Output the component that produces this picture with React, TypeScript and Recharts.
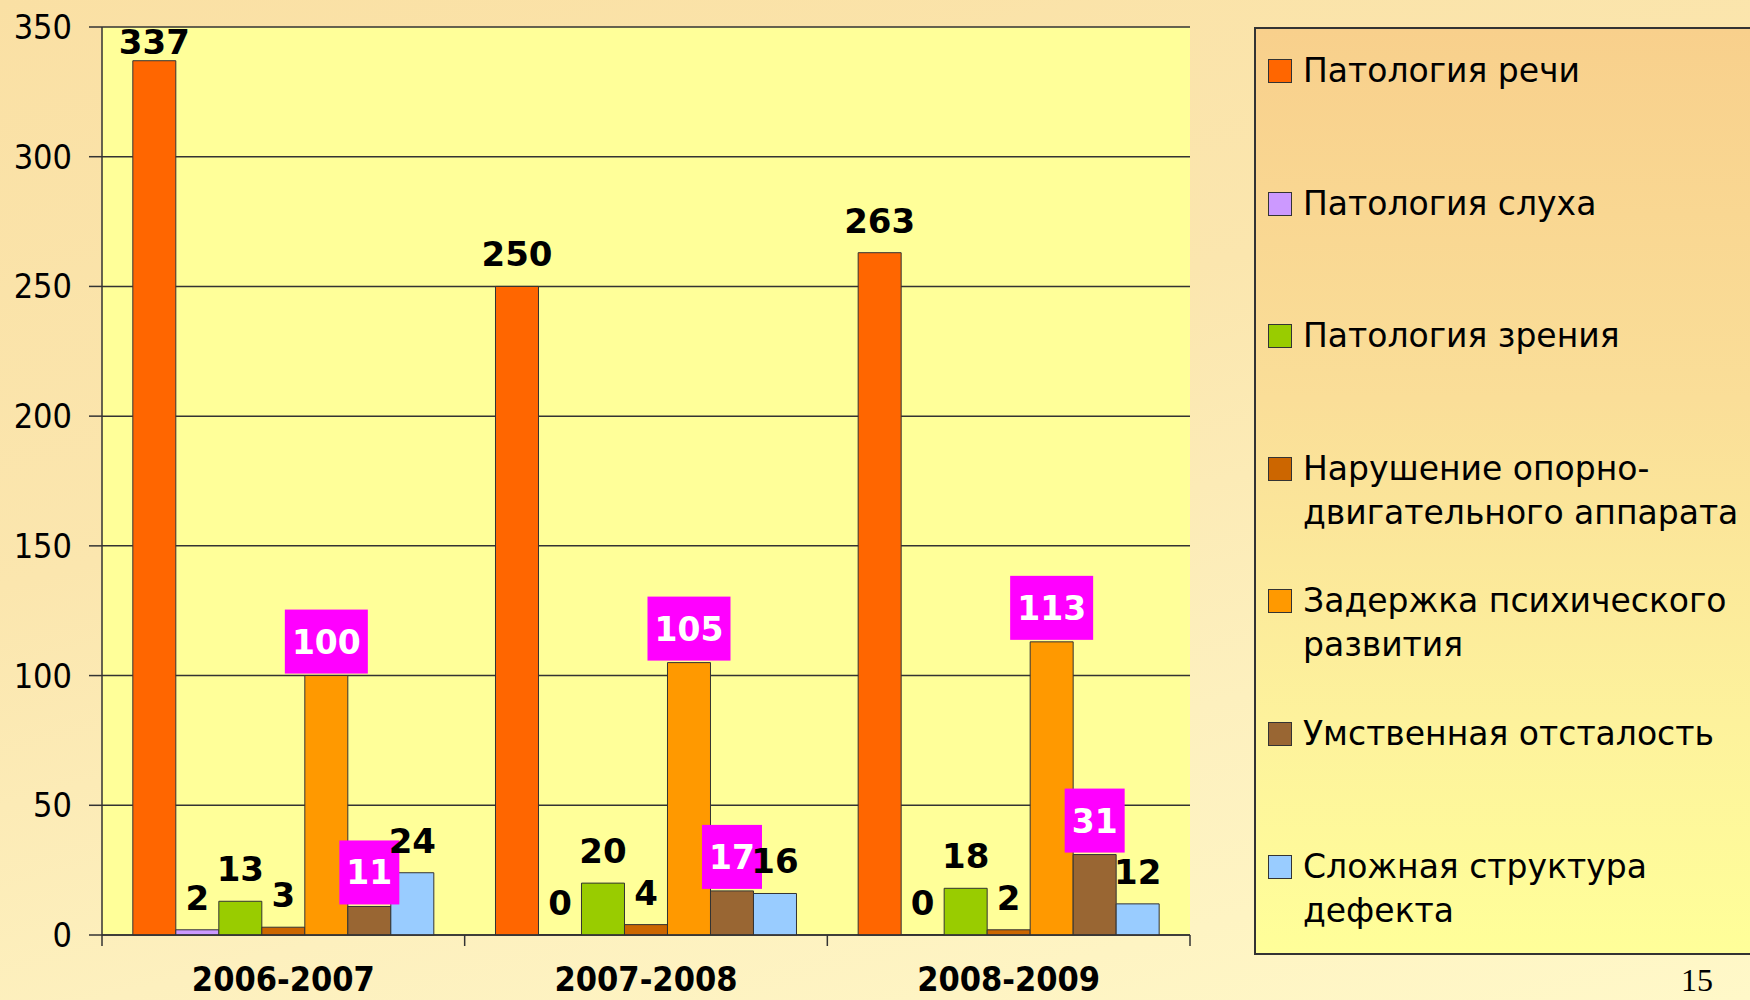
import React from 'react';
import { BarChart, Bar, XAxis, YAxis, CartesianGrid, Legend, LabelList } from 'recharts';

const categories = ['2006-2007', '2007-2008', '2008-2009'];
const seriesNames = [
  'Патология речи',
  'Патология слуха',
  'Патология зрения',
  'Нарушение опорно-двигательного аппарата',
  'Задержка психического развития',
  'Умственная отсталость',
  'Сложная структура дефекта',
];
const legendLines = [
  ['Патология речи'],
  ['Патология слуха'],
  ['Патология зрения'],
  ['Нарушение опорно-', 'двигательного аппарата'],
  ['Задержка психического', 'развития'],
  ['Умственная отсталость'],
  ['Сложная структура', 'дефекта'],
];
const seriesColors = ['#FF6600', '#CC99FF', '#99CC00', '#CC6600', '#FF9900', '#996633', '#99CCFF'];
const speechValues = [337, 250, 263];
const hearingValues = [2, 0, 0];
const visionValues = [13, 20, 18];
const motorValues = [3, 4, 2];
const delayValues = [100, 105, 113];
const intellectValues = [11, 17, 31];
const complexValues = [24, 16, 12];
const seriesValues = [speechValues, hearingValues, visionValues, motorValues, delayValues, intellectValues, complexValues];
const boxedSeries = [4, 5];
const yTicks = [0, 50, 100, 150, 200, 250, 300, 350];
const pageNumber = '15';

const seriesKeys = seriesNames.map((_, i) => `s${i}`);
const data = categories.map((c, ci) => {
  const row: Record<string, any> = { category: c };
  seriesKeys.forEach((k, si) => {
    row[k] = seriesValues[si][ci];
  });
  return row;
});

const FONT_C = "'DejaVu Sans Condensed', 'DejaVu Sans', sans-serif";
const FONT = "'DejaVu Sans', sans-serif";
const W = 1750;
const H = 1000;
const M_TOP = 27;
const M_RIGHT = 560;
const Y_W = 102;
const X_H = 65;
const PLOT_W = W - M_RIGHT - Y_W;
const LINE = '#333333';

const makeLabel = (boxed: boolean) => (props: any) => {
  const { x, y, width, value } = props;
  const cx = Number(x) + Number(width) / 2;
  const top = Number(y);
  const text = String(value);
  if (boxed) {
    const w = text.length * 23 + 14;
    const h = 64;
    const bottom = top - 2;
    return (
      <g>
        <rect x={cx - w / 2} y={bottom - h} width={w} height={h} fill="#FF00FF" />
        <text x={cx} y={bottom - h / 2 + 12} textAnchor="middle" fill="#FFFFFF" fontWeight="bold" fontSize={33} fontFamily={FONT}>
          {text}
        </text>
      </g>
    );
  }
  const baseline = Math.max(top - 20, M_TOP + 27);
  return (
    <text x={cx} y={baseline} textAnchor="middle" fill="#000000" fontWeight="bold" fontSize={34} fontFamily={FONT}>
      {text}
    </text>
  );
};

const XTick = (props: any) => {
  const { x, y, payload, index } = props;
  const half = PLOT_W / categories.length / 2;
  const cx = Number(x);
  const cy = Number(y);
  return (
    <g>
      <line x1={cx - half} x2={cx - half} y1={cy} y2={cy + 11} stroke={LINE} strokeWidth={1.5} />
      {index === categories.length - 1 && (
        <line x1={cx + half} x2={cx + half} y1={cy} y2={cy + 11} stroke={LINE} strokeWidth={1.5} />
      )}
      <text x={cx} y={cy + 56} textAnchor="middle" fill="#000000" fontWeight="bold" fontSize={34} fontFamily={FONT_C}>
        {payload.value}
      </text>
    </g>
  );
};

const SLOT = 132.6;

const renderLegend = (props: any) => {
  const payload: any[] = props.payload || [];
  return (
    <div
      style={{
        width: '100%',
        height: '100%',
        boxSizing: 'border-box',
        border: `2px solid ${LINE}`,
        background: 'linear-gradient(180deg, #F8D08C 0%, #FADE98 40%, #FDF29C 75%, #FFFF99 100%)',
        position: 'relative',
        fontFamily: FONT,
        fontSize: 33,
        color: '#000',
      }}
    >
      {seriesNames.map((name, i) => {
        const entry = payload.find((p) => p.value === name);
        const color = entry ? entry.color : seriesColors[i];
        return (
          <div key={name} style={{ position: 'absolute', left: 0, top: 20 + i * SLOT, width: '100%' }}>
            <div
              style={{
                position: 'absolute',
                left: 12,
                top: 10,
                width: 22,
                height: 22,
                background: color,
                border: `1px solid ${LINE}`,
              }}
            />
            <div style={{ position: 'absolute', left: 47, top: 0, lineHeight: '44px', whiteSpace: 'nowrap' }}>
              {legendLines[i].map((l) => (
                <div key={l}>{l}</div>
              ))}
            </div>
          </div>
        );
      })}
    </div>
  );
};

export default function App() {
  return (
    <div
      style={{
        position: 'fixed',
        left: 0,
        top: 0,
        width: W,
        height: H,
        overflow: 'hidden',
        background: 'linear-gradient(165deg, #FAE0A4 0%, #FBE6AE 40%, #FDF0BE 70%, #FFF8C8 100%)',
      }}
    >
      <BarChart
        width={W}
        height={H}
        data={data}
        margin={{ top: M_TOP, right: M_RIGHT, bottom: 0, left: 0 }}
        barCategoryGap="8.5%"
        barGap={0}
      >
        <CartesianGrid vertical={false} stroke={LINE} strokeWidth={1.5} fill="#FFFF99" fillOpacity={1} />
        <XAxis
          dataKey="category"
          height={X_H}
          interval={0}
          tickSize={0}
          tickMargin={0}
          tickLine={false}
          axisLine={{ stroke: LINE, strokeWidth: 1.5 }}
          tick={(p: any) => <XTick {...p} />}
        />
        <YAxis
          type="number"
          domain={[0, 350]}
          ticks={yTicks}
          interval={0}
          width={Y_W}
          tickSize={13}
          tickMargin={17}
          axisLine={{ stroke: LINE, strokeWidth: 1.5 }}
          tickLine={{ stroke: LINE, strokeWidth: 1.5 }}
          tick={{ fontSize: 34, fill: '#000000', fontFamily: FONT_C }}
        />
        <YAxis
          yAxisId="right"
          orientation="right"
          type="number"
          domain={[0, 350]}
          width={0}
          tick={false}
          tickLine={false}
          axisLine={{ stroke: LINE, strokeWidth: 1.5 }}
        />
        <Legend
          layout="horizontal"
          verticalAlign="middle"
          align="center"
          width={520}
          height={928}
          wrapperStyle={{ left: 1254, top: 27, width: 520, height: 928 }}
          content={renderLegend}
        />
        {seriesKeys.map((k, i) => (
          <Bar
            key={k}
            dataKey={k}
            name={seriesNames[i]}
            fill={seriesColors[i]}
            stroke={LINE}
            strokeWidth={1}
            minPointSize={(v: any) => (v === 0 ? 0.5 : 0)}
            isAnimationActive={false}
          >
            <LabelList dataKey={k} content={makeLabel(boxedSeries.includes(i))} />
          </Bar>
        ))}
      </BarChart>
      <div
        style={{
          position: 'absolute',
          left: 1681,
          top: 964,
          fontFamily: "'Liberation Serif', 'DejaVu Serif', serif",
          fontSize: 32,
          lineHeight: 1,
          color: '#000',
        }}
      >
        {pageNumber}
      </div>
    </div>
  );
}
